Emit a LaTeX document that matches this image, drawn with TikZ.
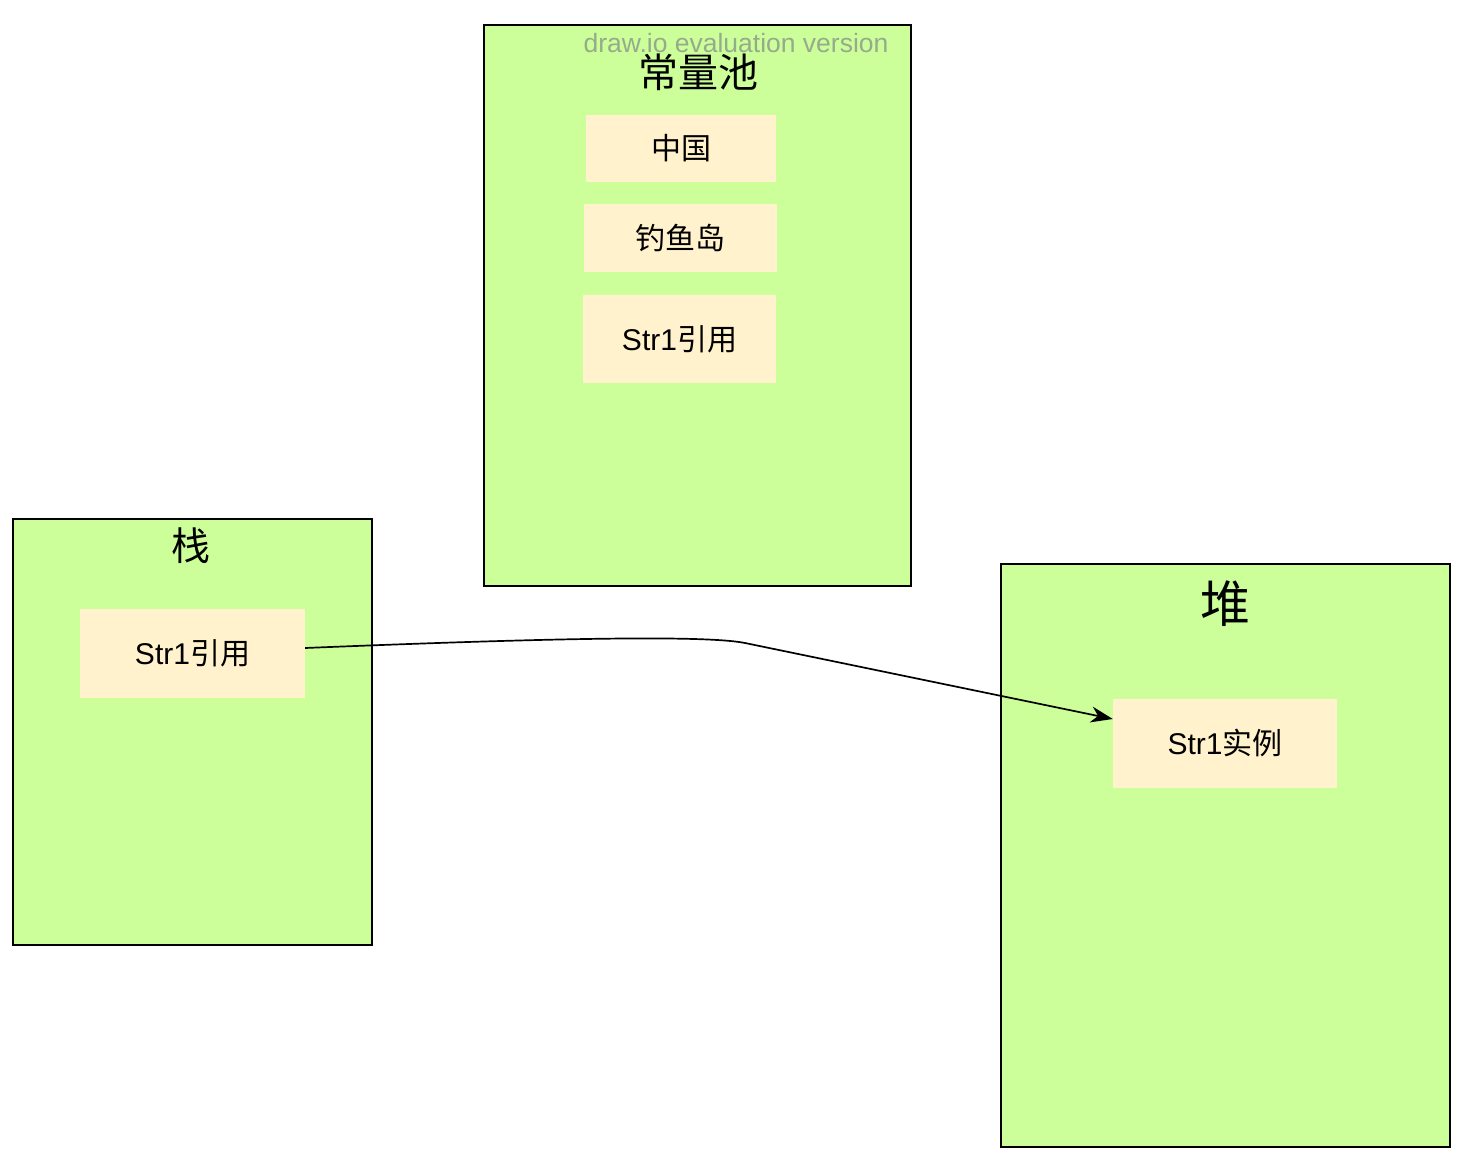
\documentclass[tikz,border=0pt]{standalone}
\usepackage{fontspec}
\setmainfont{Liberation Sans}
\newfontfamily\cjk{Noto Sans CJK SC}
\usetikzlibrary{arrows.meta}
\definecolor{areagreen}{HTML}{CCFF99}
\definecolor{cellyellow}{HTML}{FFF2CC}
\definecolor{markgray}{RGB}{150,170,140}
\tikzset{
  area/.style={draw=black,line width=1.5pt,fill=areagreen,rectangle,inner sep=0pt},
  cell/.style={fill=cellyellow,rectangle,inner sep=0pt,font=\fontsize{30}{34}\selectfont},
}

\begin{document}
\begin{tikzpicture}[x=1pt,y=-1pt]
\useasboundingbox (0,0) rectangle (1460,1156);
% three memory areas
\node[area,minimum width=427pt,minimum height=561pt] (pool) at (697.5,305.5) {};
\node[area,minimum width=359pt,minimum height=426pt] (stack) at (192.5,732) {};
\node[area,minimum width=449pt,minimum height=583pt] (heap) at (1225.5,855.5) {};
\node[font=\fontsize{26.5}{30}\selectfont,text=markgray,inner sep=0pt] (mark) at (736,43) {draw.io evaluation version};
\node[font=\fontsize{40}{44}\selectfont\cjk,inner sep=0pt] (pooltitle) at (698,72) {常量池};
\node[font=\fontsize{39}{43}\selectfont\cjk] (stacktitle) at (191,546) {栈};
\node[font=\fontsize{50}{54}\selectfont\cjk] (heaptitle) at (1225,604) {堆};
% cells
\node[cell,minimum width=190pt,minimum height=67pt] (china) at (681,148.5) {\cjk 中国};
\node[cell,minimum width=193pt,minimum height=68pt] (island) at (680.5,238) {\cjk 钓鱼岛};
\node[cell,minimum width=193pt,minimum height=88pt] (poolref) at (679.5,339) {Str1{\cjk 引用}};
\node[cell,minimum width=225pt,minimum height=89pt] (ref) at (192.5,653.5) {Str1{\cjk 引用}};
\node[cell,minimum width=224pt,minimum height=89pt] (inst) at (1225,743.5) {Str1{\cjk 实例}};
\draw[line width=1.7pt,-{Stealth[length=22pt,width=16pt,inset=7pt]}] ([yshift=5.5pt]ref.east) .. controls (550,638) and (705,635) .. (745,643) -- ([yshift=24.5pt]inst.west);
\end{tikzpicture}
\end{document}
